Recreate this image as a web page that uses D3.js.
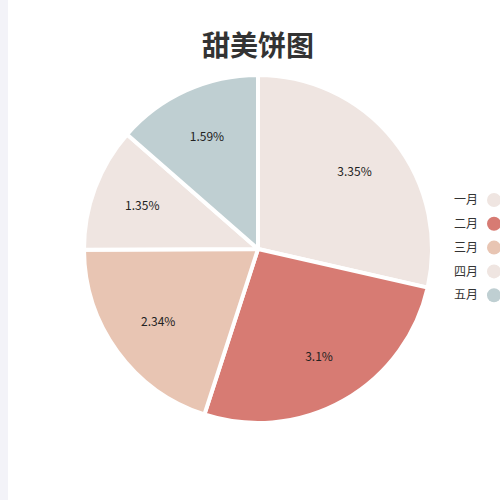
<!DOCTYPE html>
<html>
<head>
<meta charset="utf-8">
<script src="https://cdn.jsdelivr.net/npm/d3@7"></script>
<style>
  html, body { margin: 0; padding: 0; background: #fff; }
  body { font-family: "Noto Sans CJK SC", "Noto Sans", sans-serif; }
</style>
</head>
<body>
<div id="chart"></div>
<script>
var months = ["一月", "二月", "三月", "四月", "五月"];
var values = [3.35, 3.1, 2.34, 1.35, 1.59];
var colors = ["#efe5e1", "#d77b73", "#e8c5b3", "#efe5e1", "#bfcfd2"];

var width = 500, height = 500;
var cx = 258, cy = 249, radius = 174;

var svg = d3.select("#chart").append("svg")
    .attr("width", width)
    .attr("height", height);

// light strip on the left edge
svg.append("rect")
    .attr("x", 0).attr("y", 0)
    .attr("width", 8).attr("height", height)
    .attr("fill", "#f3f3f8");

svg.append("text")
    .attr("x", cx)
    .attr("y", 56)
    .attr("text-anchor", "middle")
    .attr("font-size", 28)
    .attr("font-weight", "bold")
    .attr("fill", "#333")
    .text("甜美饼图");

var color = d3.scaleOrdinal().domain(months).range(colors);

var pie = d3.pie()
    .sort(null)
    .value(function(d, i) { return values[i]; });

var arc = d3.arc().innerRadius(0).outerRadius(radius);
var labelArc = d3.arc().innerRadius(radius * 0.71).outerRadius(radius * 0.71);

var g = svg.append("g").attr("transform", "translate(" + cx + "," + cy + ")");

var slices = g.selectAll("g.slice")
    .data(pie(months))
    .enter()
    .append("g")
    .attr("class", "slice");

slices.append("path")
    .attr("d", arc)
    .attr("fill", function(d) { return color(d.data); })
    .attr("stroke", "#fff")
    .attr("stroke-width", 4)
    .attr("stroke-linejoin", "round");

slices.append("text")
    .attr("transform", function(d) { return "translate(" + labelArc.centroid(d) + ")"; })
    .attr("text-anchor", "middle")
    .attr("dy", "0.35em")
    .attr("font-size", 12)
    .attr("fill", "#222")
    .text(function(d) { return d.value + "%"; });

// legend, cut off at the right edge
var legend = svg.selectAll("g.legend")
    .data(months)
    .enter()
    .append("g")
    .attr("class", "legend")
    .attr("transform", function(d, i) { return "translate(0," + (200 + i * 23.8) + ")"; });

legend.append("circle")
    .attr("cx", 494)
    .attr("cy", 0)
    .attr("r", 7)
    .attr("fill", function(d) { return color(d); });

legend.append("text")
    .attr("x", 478)
    .attr("y", 0)
    .attr("dy", "0.35em")
    .attr("text-anchor", "end")
    .attr("font-size", 12)
    .attr("fill", "#333")
    .text(function(d) { return d; });
</script>
</body>
</html>
